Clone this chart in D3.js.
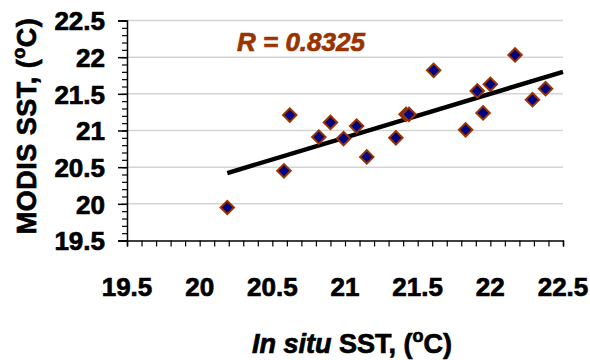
<!DOCTYPE html>
<html>
<head>
<meta charset="utf-8">
<script src="https://cdn.jsdelivr.net/npm/d3@7"></script>
<style>
  body { margin: 0; background: #fff; }
  text { font-family: "Liberation Sans", Arial, sans-serif; font-weight: bold; stroke-width: 0.7px; }
</style>
</head>
<body>
<svg id="chart" width="590" height="360"></svg>
<script>
// in situ SST vs MODIS SST (degC)
const inSitu = [20.19, 20.62, 20.58, 20.82, 20.90, 20.99, 21.08, 21.15, 21.35, 21.42, 21.44,
  21.61, 21.83, 21.91, 21.95, 22.00, 22.17, 22.29, 22.38]
const modis = [19.95, 21.21, 20.45, 20.91, 21.11, 20.89, 21.06, 20.64, 20.90, 21.22, 21.22,
  21.82, 21.01, 21.54, 21.24, 21.63, 22.03, 21.42, 21.57]

// linear trend, end points as drawn
const trendX = [20.19, 22.5]
const trendY = [20.42, 21.80]

const tickLabels = ['19.5', '20', '20.5', '21', '21.5', '22', '22.5']
const rLabel = 'R = 0.8325'

const svg = d3.select('#chart')

const x = d3.scaleLinear().domain([19.5, 22.5]).range([127, 563])
const y = d3.scaleLinear().domain([19.5, 22.5]).range([240.5, 20.5])

const majors = tickLabels.map(Number)
const minors = d3.range(195, 226).map(v => v / 10)

// horizontal grid lines
svg.append('g')
  .selectAll('line')
  .data(majors.slice(1))
  .join('line')
  .attr('x1', x(19.5)).attr('x2', x(22.5))
  .attr('y1', d => y(d)).attr('y2', d => y(d))
  .style('stroke', '#d4d4d4')
  .style('stroke-width', 1.5)

// y axis: minor then major ticks
svg.append('g')
  .attr('transform', `translate(${x(19.5)},0)`)
  .call(d3.axisLeft(y).tickValues(minors).tickSize(5).tickFormat(''))
  .call(g => g.select('.domain').remove())
  .call(g => g.selectAll('line').style('stroke', '#000').style('stroke-width', 1.2))

const yAxis = svg.append('g')
  .attr('transform', `translate(${x(19.5)},0)`)
  .call(d3.axisLeft(y).tickValues(majors).tickSize(9).tickPadding(13).tickFormat((d, i) => tickLabels[i]))
yAxis.select('.domain').style('stroke', '#000').style('stroke-width', 1.5)
yAxis.selectAll('line').style('stroke', '#000').style('stroke-width', 1.5)
yAxis.selectAll('text')
  .style('font-size', '26px')
  .style('fill', '#000')
  .style('stroke', '#000')
  .attr('dy', '0.36em')

// x axis
const xAxis = svg.append('g')
  .attr('transform', `translate(0,${y(19.5)})`)
  .call(d3.axisBottom(x).tickValues(minors).tickSize(6).tickFormat(''))
xAxis.select('.domain').style('stroke', '#000').style('stroke-width', 1.5)
xAxis.selectAll('line').style('stroke', '#000').style('stroke-width', 1.2)

svg.append('g')
  .selectAll('text')
  .data(majors)
  .join('text')
  .attr('x', d => x(d))
  .attr('y', 296)
  .attr('text-anchor', 'middle')
  .style('font-size', '26px')
  .style('stroke', '#000')
  .text((d, i) => tickLabels[i])

// trend line
svg.append('line')
  .attr('x1', x(trendX[0])).attr('y1', y(trendY[0]))
  .attr('x2', x(trendX[1])).attr('y2', y(trendY[1]))
  .style('stroke', '#000')
  .style('stroke-width', 4.5)

// diamonds
const diamond = d3.symbol(d3.symbolSquare, 90)
svg.append('g')
  .selectAll('path')
  .data(inSitu.map((v, i) => [v, modis[i]]))
  .join('path')
  .attr('d', diamond)
  .attr('transform', d => `translate(${x(d[0])},${y(d[1])}) rotate(45)`)
  .style('fill', '#000080')
  .style('stroke', '#993300')
  .style('stroke-width', 2)

// R label
svg.append('text')
  .attr('x', 237)
  .attr('y', 51)
  .style('font-size', '26px')
  .style('font-style', 'italic')
  .style('fill', '#993300')
  .style('stroke', '#993300')
  .text(rLabel)

// axis titles
const xTitle = svg.append('text')
  .attr('x', 352)
  .attr('y', 353)
  .attr('text-anchor', 'middle')
  .style('font-size', '27px')
  .style('stroke', '#000')
xTitle.append('tspan').style('font-style', 'italic').text('In situ')
xTitle.append('tspan').text(' SST, (')
xTitle.append('tspan').attr('dy', -11).style('font-size', '18px').text('o')
xTitle.append('tspan').attr('dy', 11).text('C)')

const yTitle = svg.append('text')
  .attr('transform', 'translate(36,126) rotate(-90)')
  .attr('text-anchor', 'middle')
  .style('font-size', '27px')
  .style('stroke', '#000')
  .style('letter-spacing', '0.5px')
yTitle.append('tspan').text('MODIS SST, (')
yTitle.append('tspan').attr('dy', -11).style('font-size', '18px').text('o')
yTitle.append('tspan').attr('dy', 11).text('C)')
</script>
</body>
</html>
